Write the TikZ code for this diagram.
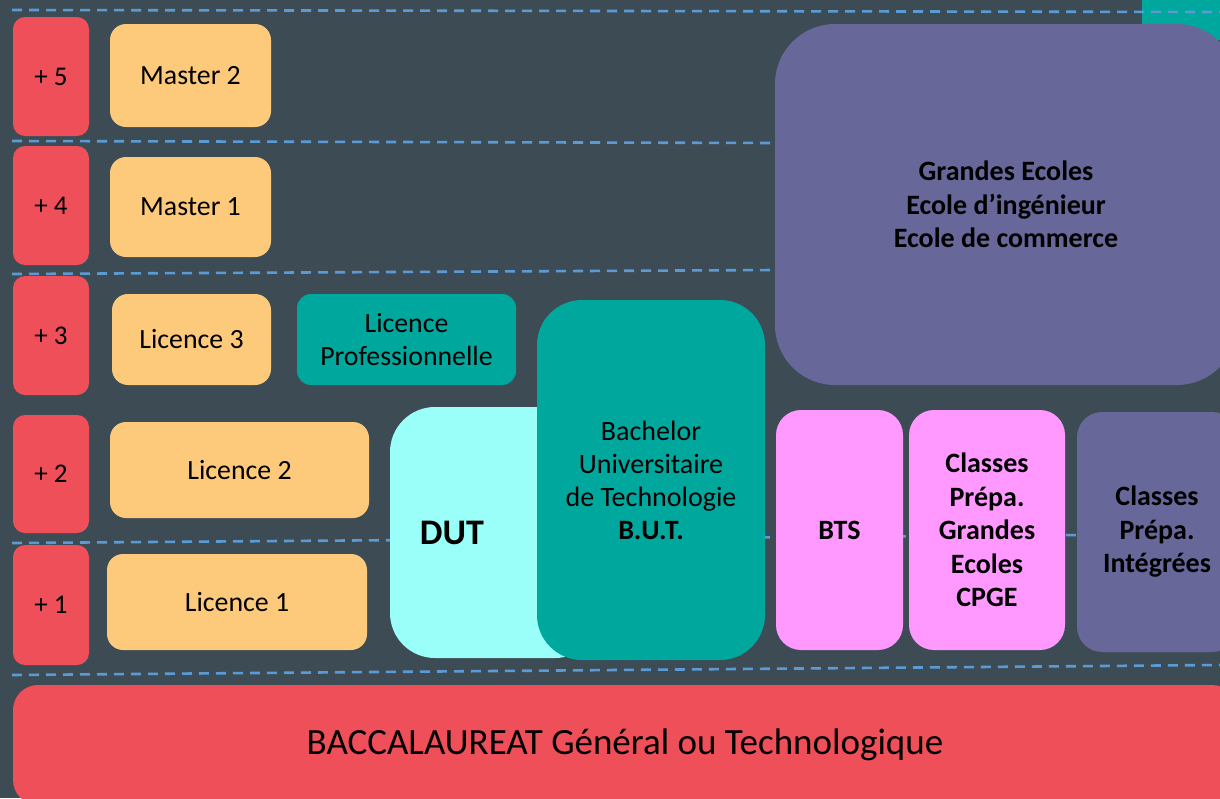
\documentclass[tikz,border=0pt]{standalone}
\usepackage{fontspec}
\setmainfont{Carlito}
\definecolor{bgc}{HTML}{3D4B55}
\definecolor{redc}{HTML}{EE4F58}
\definecolor{orc}{HTML}{FDC97A}
\definecolor{tealc}{HTML}{00A79D}
\definecolor{cyanc}{HTML}{99FFF8}
\definecolor{purc}{HTML}{67679A}
\definecolor{pinkc}{HTML}{FF99FF}
\definecolor{dashc}{HTML}{5B9BD5}
\tikzset{
  yearbox/.style={fill=redc, rounded corners=12pt, inner sep=0pt, minimum width=76pt, font=\fontsize{27}{33}\selectfont},
  licbox/.style={fill=orc, rounded corners=16pt, inner sep=0pt, font=\fontsize{27.8}{33.5}\selectfont},
  bigbox/.style={rounded corners=45pt, inner sep=0pt, align=center, font=\fontsize{28}{33}\selectfont},
  boldbox/.style={bigbox, rounded corners=25pt, font=\fontsize{28}{33.5}\selectfont\bfseries},
  sepline/.style={draw=dashc, line width=2.6pt, dash pattern=on 10pt off 7pt},
}
\begin{document}
\begin{tikzpicture}[x=1pt, y=-1pt]
\useasboundingbox (0,0) rectangle (1220,798);
\clip (0,0) rectangle (1220,798);
\fill[bgc] (0,0) rectangle (1220,798);
\fill[tealc] (1142,0) rectangle (1220,40);
% separators
\draw[sepline] (12,10) -- (1220,12);
\draw[sepline] (12,141) -- (775,143);
\draw[sepline] (12,274) -- (775,270);
\draw[sepline] (12,543) -- (1220,534);
\draw[sepline] (12,675) -- (1220,665);
% year column
\node[yearbox, minimum height=119pt] (y5) at (51,76.5) {+ 5};
\node[yearbox, minimum height=119pt] (y4) at (51,205.5) {+ 4};
\node[yearbox, minimum height=119pt] (y3) at (51,335.5) {+ 3};
\node[yearbox, minimum height=118pt] (y2) at (51,474) {+ 2};
\node[yearbox, minimum height=120pt] (y1) at (51,605) {+ 1};
% university
\node[licbox, minimum width=161pt, minimum height=103pt] (m2) at (190.5,75.5) {Master 2};
\node[licbox, minimum width=161pt, minimum height=100pt] (m1) at (190.5,207) {Master 1};
\node[licbox, minimum width=159pt, minimum height=91pt] (l3) at (191.5,339.5) {Licence 3};
\node[licbox, minimum width=259pt, minimum height=96pt] (l2) at (239.5,470) {Licence 2};
\node[licbox, minimum width=260pt, minimum height=96pt] (l1) at (237,602) {Licence 1};
\node[licbox, fill=tealc, rounded corners=14pt, align=center, minimum width=219pt, minimum height=91pt] (lp) at (406.5,339.5) {Licence\\Professionnelle};
% DUT / BUT
\node[bigbox, fill=cyanc, minimum width=210pt, minimum height=251pt] (dut) at (495,532.5) {};
\node[font=\fontsize{36}{40}\selectfont\bfseries, inner sep=0pt] (dutlabel) at (452,533) {DUT};
\node[bigbox, fill=tealc, minimum width=228pt, minimum height=360pt] (but) at (651,480) {Bachelor\\Universitaire\\de Technologie\\\textbf{B.U.T.}};
% right side
\node[boldbox, fill=purc, rounded corners=60pt, minimum width=462pt, minimum height=361pt] (ge) at (1006,204.5) {Grandes Ecoles\\Ecole d’ingénieur\\Ecole de commerce};
\node[boldbox, fill=pinkc, minimum width=127pt, minimum height=240pt] (bts) at (839.5,530) {BTS};
\node[boldbox, fill=pinkc, minimum width=156pt, minimum height=240pt] (cpge) at (987,530) {Classes\\Prépa.\\Grandes\\Ecoles\\CPGE};
\node[boldbox, fill=purc, minimum width=160pt, minimum height=240pt] (cpi) at (1157,532) {Classes\\Prépa.\\Intégrées};
% bac
\node[bigbox, fill=redc, rounded corners=25pt, minimum width=1224pt, minimum height=120pt, font=\fontsize{37}{44}\selectfont] (bac) at (625,745) {BACCALAUREAT Général ou Technologique};
\end{tikzpicture}
\end{document}
